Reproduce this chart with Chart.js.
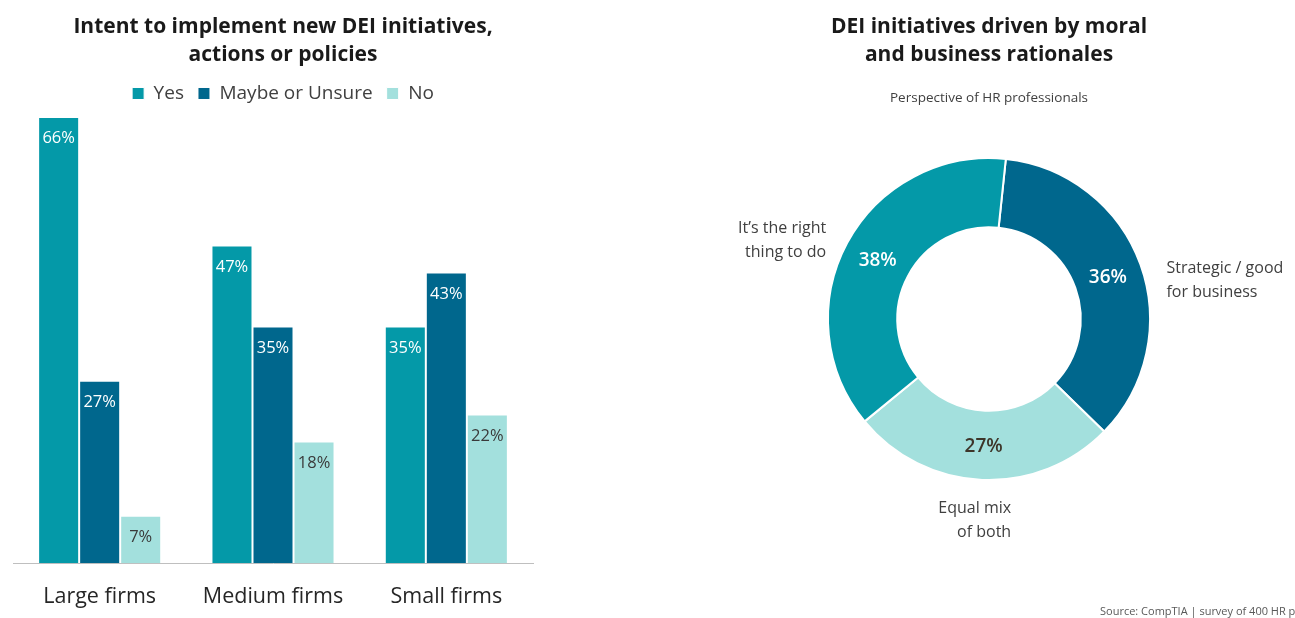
<!DOCTYPE html>
<html><head><meta charset="utf-8">
<script src="https://cdn.jsdelivr.net/npm/chart.js@4.4.1/dist/chart.umd.min.js"></script>
<style>
html,body{margin:0;padding:0;background:#fff;width:1295px;height:618px;overflow:hidden;}
#c1wrap{position:absolute;left:0;top:0;width:553px;height:630px;}
#c2wrap{position:absolute;left:683px;top:0;width:612px;height:618px;}
#src{position:absolute;left:1100px;top:603px;font:11px 'Open Sans';color:#595959;white-space:nowrap;}
</style></head><body>
<div id="c1wrap"><canvas id="c1"></canvas></div>
<div id="c2wrap"><canvas id="c2"></canvas></div>
<div id="src">Source: CompTIA | survey of 400 HR professionals</div>
<script>
// ---- data ----
const categories = ['Large firms', 'Medium firms', 'Small firms'];
const seriesNames = ['Yes', 'Maybe or Unsure', 'No'];
const yesValues = [66, 47, 35];
const maybeValues = [27, 35, 43];
const noValues = [7, 18, 22];

const donutLabels = [['Strategic / good', 'for business'], ['Equal mix', 'of both'], ['It\u2019s the right', 'thing to do']];
const donutValues = [36, 27, 38];

// ---- styles ----
const cTeal = '#0499a8', cDark = '#00678d', cLight = '#a3e0dd';
const textGray = '#404040';
const FONT = "'Open Sans', sans-serif";

const barLabelColors = ['#ffffff', '#ffffff', '#3a3a3a'];
const barLabels = {
  id: 'barLabels',
  afterDatasetsDraw(chart) {
    const ctx = chart.ctx;
    chart.data.datasets.forEach((ds, i) => {
      const meta = chart.getDatasetMeta(i);
      meta.data.forEach((bar, j) => {
        ctx.save();
        ctx.font = '16.5px ' + FONT;
        ctx.fillStyle = barLabelColors[i];
        ctx.textAlign = 'center';
        ctx.textBaseline = 'middle';
        ctx.fillText(ds.data[j] + '%', bar.x, bar.y + 21.5);
        ctx.restore();
      });
    });
  }
};

new Chart(document.getElementById('c1'), {
  type: 'bar',
  data: {
    labels: categories,
    datasets: [
      { label: seriesNames[0], data: yesValues, backgroundColor: cTeal },
      { label: seriesNames[1], data: maybeValues, backgroundColor: cDark },
      { label: seriesNames[2], data: noValues, backgroundColor: cLight }
    ]
  },
  options: {
    responsive: true, maintainAspectRatio: false, animation: false, events: [],
    datasets: { bar: { categoryPercentage: 0.71, barPercentage: 1, borderColor: '#ffffff', borderWidth: 1, borderSkipped: 'bottom' } },
    layout: { padding: { left: 13, right: 0, bottom: 0, top: 0 } },
    plugins: {
      title: {
        display: true,
        text: ['Intent to implement new DEI initiatives,', 'actions or policies'],
        font: { family: FONT, size: 21, weight: 'bold', lineHeight: 1.333 },
        color: '#1a1a1a',
        padding: { top: 13, bottom: 1 }
      },
      legend: {
        display: true,
        labels: { font: { family: FONT, size: 19 }, color: textGray, boxWidth: 12, boxHeight: 12, padding: 14 }
      },
      tooltip: { enabled: false }
    },
    scales: {
      x: {
        grid: { display: false, drawTicks: false },
        border: { display: true, color: '#bfbfbf', width: 1 },
        ticks: { font: { family: FONT, size: 21.5 }, color: '#262626', padding: 20.5 }
      },
      xTop: {
        type: 'category',
        position: 'top',
        display: true,
        grid: { display: false, drawTicks: false },
        border: { display: false },
        ticks: { display: false },
        afterFit(scale) { scale.height = 4; }
      },
      y: {
        position: 'right',
        display: true,
        grid: { display: false, drawTicks: false },
        border: { display: false },
        ticks: { display: false },
        afterFit(scale) { scale.width = 20; },
        min: 0,
        max: Math.max(...yesValues, ...maybeValues, ...noValues)
      }
    }
  },
  plugins: [barLabels]
});

const donutLabelColors = ['#ffffff', '#3d3529', '#ffffff'];
// offsets of outside label blocks from the arc's outer mid point (style)
const outsideStyle = [
  { align: 'left', dx: 26, dy: 16 },
  { align: 'right', dx: 29, dy: 40 },
  { align: 'right', dx: -21, dy: -2 }
];
const donutText = {
  id: 'donutText',
  afterDatasetsDraw(chart) {
    const ctx = chart.ctx;
    const meta = chart.getDatasetMeta(0);
    meta.data.forEach((arc, i) => {
      const mid = (arc.startAngle + arc.endAngle) / 2;
      const rMid = (arc.innerRadius + arc.outerRadius) / 2;
      ctx.save();
      ctx.font = '600 19px ' + FONT;
      ctx.fillStyle = donutLabelColors[i];
      ctx.textAlign = 'center';
      ctx.textBaseline = 'middle';
      ctx.fillText(donutValues[i] + '%', arc.x + Math.cos(mid) * rMid, arc.y + Math.sin(mid) * rMid + 1);
      const st = outsideStyle[i];
      const px = arc.x + Math.cos(mid) * arc.outerRadius + st.dx;
      const py = arc.y + Math.sin(mid) * arc.outerRadius + st.dy;
      ctx.font = '16px ' + FONT;
      ctx.fillStyle = textGray;
      ctx.textAlign = st.align;
      const lines = donutLabels[i];
      const lh = 24;
      lines.forEach((ln, k) => {
        ctx.fillText(ln, px, py + (k - (lines.length - 1) / 2) * lh);
      });
      ctx.restore();
    });
  }
};

new Chart(document.getElementById('c2'), {
  type: 'doughnut',
  data: {
    labels: donutLabels.map(l => l.join(' ')),
    datasets: [{ data: donutValues, backgroundColor: [cDark, cLight, cTeal], borderColor: '#ffffff', borderWidth: 2 }]
  },
  options: {
    responsive: true, maintainAspectRatio: false, animation: false, events: [],
    rotation: 6,
    cutout: '57%',
    layout: { padding: { left: 144, right: 144, top: 0, bottom: 86 } },
    plugins: {
      title: {
        display: true,
        text: ['DEI initiatives driven by moral', 'and business rationales'],
        font: { family: FONT, size: 21, weight: 'bold', lineHeight: 1.333 },
        color: '#1a1a1a',
        padding: { top: 13, bottom: 21 }
      },
      subtitle: {
        display: true,
        text: 'Perspective of HR professionals',
        font: { family: FONT, size: 13.5 },
        color: textGray,
        padding: { top: 0, bottom: 0 }
      },
      legend: { display: false },
      tooltip: { enabled: false }
    }
  },
  plugins: [donutText]
});
</script>
</body></html>
